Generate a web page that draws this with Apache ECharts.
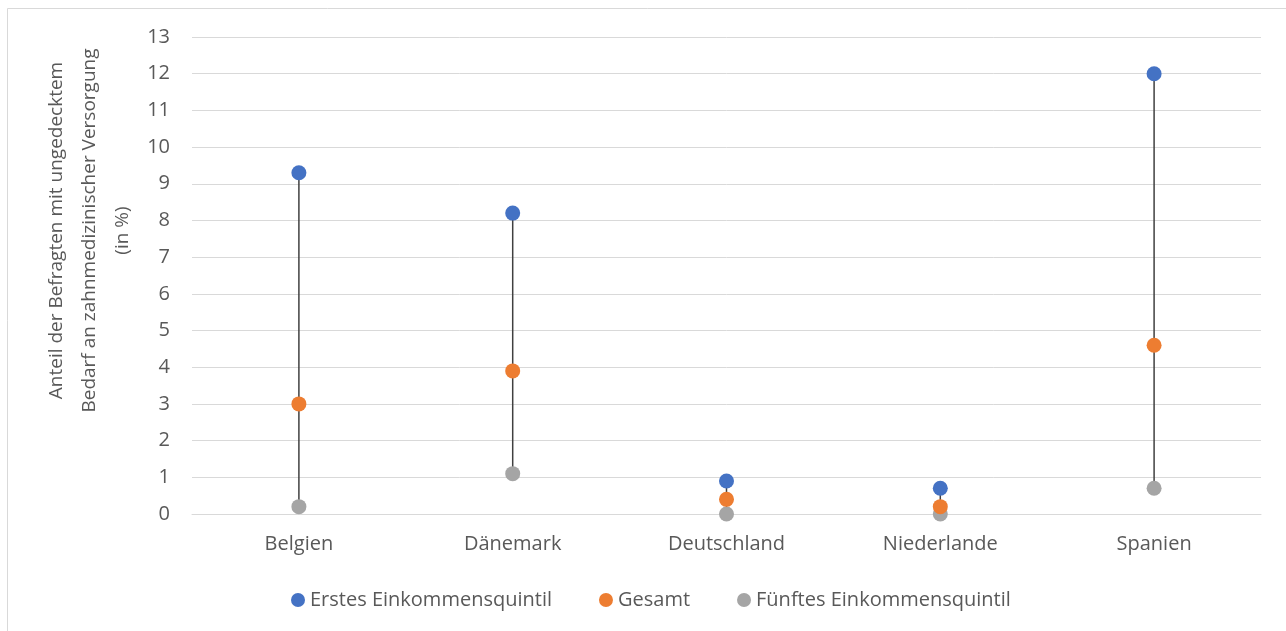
<!DOCTYPE html>
<html>
<head>
<meta charset="utf-8">
<script src="https://cdn.jsdelivr.net/npm/echarts@6/dist/echarts.min.js"></script>
<style>
  html, body { margin: 0; padding: 0; background: #fff; }
  #chart { width: 1286px; height: 631px; }
</style>
</head>
<body>
<div id="chart"></div>
<script>
// data
var countries = ['Belgien', 'Dänemark', 'Deutschland', 'Niederlande', 'Spanien'];
var erstesQuintil = [9.3, 8.2, 0.9, 0.7, 12.0];
var gesamt = [3.0, 3.9, 0.4, 0.2, 4.6];
var fuenftesQuintil = [0.2, 1.1, 0.0, 0.0, 0.7];
var yTicks = [0, 1, 2, 3, 4, 5, 6, 7, 8, 9, 10, 11, 12, 13];

var fontFam = "'Open Sans', sans-serif";
var textGray = '#595959';

// high-low range per country
var rangeData = countries.map(function (c, i) {
    var vals = [erstesQuintil[i], gesamt[i], fuenftesQuintil[i]];
    return [i, Math.min.apply(null, vals), Math.max.apply(null, vals)];
});

var myChart = echarts.init(document.getElementById('chart'));
var option = {
    backgroundColor: '#fff',
    animation: false,
    textStyle: { fontFamily: fontFam },
    graphic: [{
        type: 'rect',
        shape: { x: 7.5, y: 8.5, width: 1290, height: 630 },
        style: { fill: 'none', stroke: '#d9d9d9', lineWidth: 1 },
        silent: true
    }],
    grid: { left: 192, right: 25, top: 37, bottom: 117, outerBoundsMode: 'none' },
    legend: {
        top: 585,
        left: 286,
        itemWidth: 14,
        itemHeight: 14,
        itemGap: 47,
        icon: 'circle',
        textStyle: { color: textGray, fontSize: 20, fontFamily: fontFam },
        data: ['Erstes Einkommensquintil', 'Gesamt', 'Fünftes Einkommensquintil']
    },
    xAxis: {
        type: 'category',
        data: countries,
        axisLine: { lineStyle: { color: '#d9d9d9' } },
        axisTick: { show: false },
        axisLabel: { color: textGray, fontSize: 20, margin: 20, fontFamily: fontFam }
    },
    yAxis: {
        type: 'value',
        min: yTicks[0],
        max: yTicks[yTicks.length - 1],
        interval: 1,
        name: 'Anteil der Befragten mit ungedecktem\nBedarf an zahnmedizinischer Versorgung\n(in %)',
        nameLocation: 'middle',
        nameGap: 53,
        nameMoveOverlap: false,
        nameTextStyle: {
            color: textGray, fontSize: 19, lineHeight: 33, fontFamily: fontFam,
            padding: [0, 0, 0, 90]
        },
        axisLine: { show: false },
        axisTick: { show: false },
        axisLabel: { color: textGray, fontSize: 20, margin: 22, fontFamily: fontFam },
        splitLine: { lineStyle: { color: '#d9d9d9', width: 1 } }
    },
    series: [
        {
            type: 'custom',
            name: 'range',
            silent: true,
            z: 1,
            renderItem: function (params, api) {
                var p1 = api.coord([api.value(0), api.value(1)]);
                var p2 = api.coord([api.value(0), api.value(2)]);
                return {
                    type: 'line',
                    shape: { x1: p1[0], y1: p1[1], x2: p2[0], y2: p2[1] },
                    style: { stroke: '#404040', lineWidth: 1.5 }
                };
            },
            encode: { x: 0, y: [1, 2] },
            data: rangeData
        },
        {
            name: 'Erstes Einkommensquintil',
            type: 'scatter',
            symbolSize: 15,
            z: 3,
            itemStyle: { color: '#4472C4', opacity: 1 },
            data: erstesQuintil
        },
        {
            name: 'Gesamt',
            type: 'scatter',
            symbolSize: 15,
            z: 3,
            itemStyle: { color: '#ED7D31', opacity: 1 },
            data: gesamt
        },
        {
            name: 'Fünftes Einkommensquintil',
            type: 'scatter',
            symbolSize: 15,
            z: 2,
            itemStyle: { color: '#A5A5A5', opacity: 1 },
            data: fuenftesQuintil
        }
    ]
};
myChart.setOption(option);
</script>
</body>
</html>
